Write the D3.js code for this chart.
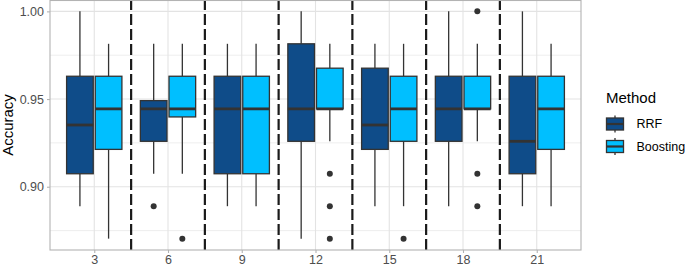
<!DOCTYPE html>
<html>
<head>
<meta charset="utf-8">
<script src="https://cdn.jsdelivr.net/npm/d3@7"></script>
<style>
  html, body { margin: 0; padding: 0; background: #fff; }
  svg { display: block; font-family: "Liberation Sans", Arial, sans-serif; }
</style>
</head>
<body>
<svg id="chart" width="685" height="267"></svg>
<script>
// ---- data (accuracy values) ----
const categories = ["3", "6", "9", "12", "15", "18", "21"];
const methods = ["RRF", "Boosting"];
const methodColors = ["#0F4C89", "#00BFFF"];
const yTicks = [0.90, 0.95, 1.00];

// per category: [whiskerLow, q1, median, q3, whiskerHigh]
const rrfStats = [
  [0.8889, 0.9074, 0.9352, 0.9630, 1.0000],
  [0.9074, 0.9259, 0.9444, 0.9491, 0.9815],
  [0.8889, 0.9074, 0.9444, 0.9630, 0.9815],
  [0.8704, 0.9259, 0.9444, 0.9815, 1.0000],
  [0.8889, 0.9213, 0.9352, 0.9676, 0.9815],
  [0.8889, 0.9259, 0.9444, 0.9630, 1.0000],
  [0.8889, 0.9074, 0.9259, 0.9630, 1.0000]
];
const boostingStats = [
  [0.8704, 0.9213, 0.9444, 0.9630, 0.9815],
  [0.9074, 0.9398, 0.9444, 0.9630, 0.9815],
  [0.8889, 0.9074, 0.9444, 0.9630, 0.9815],
  [0.9259, 0.9444, 0.9444, 0.9676, 0.9815],
  [0.8889, 0.9259, 0.9444, 0.9630, 0.9815],
  [0.9259, 0.9444, 0.9444, 0.9630, 0.9815],
  [0.8889, 0.9213, 0.9444, 0.9630, 0.9815]
];
const rrfOutliers = [[], [0.8889], [], [], [], [], []];
const boostingOutliers = [[], [0.8704], [], [0.9074, 0.8889, 0.8704], [0.8704], [1.0000, 0.9074, 0.8889], []];

// ---- layout ----
const svg = d3.select("#chart");
const panel = { left: 50, right: 581, top: 0, bottom: 250 };

const allVals = [...rrfStats.flat(), ...boostingStats.flat(), ...rrfOutliers.flat(), ...boostingOutliers.flat()];
const vmin = d3.min(allVals), vmax = d3.max(allVals);
const pad = (vmax - vmin) * 0.05;

const y = d3.scaleLinear().domain([vmin - pad, vmax + pad]).range([panel.bottom, panel.top]);
const x = d3.scalePoint().domain(categories).range([panel.left, panel.right]).padding(0.6);
const step = x.step();
const sub = d3.scaleBand().domain(methods).range([-step * 0.375, step * 0.375]).paddingInner(0.07);

const gridCol = "#e3e3e3";
// minor gridlines
const minorTicks = [0.875, 0.925, 0.975];
svg.append("g").selectAll("line").data(minorTicks).join("line")
  .attr("x1", panel.left).attr("x2", panel.right)
  .attr("y1", d => y(d)).attr("y2", d => y(d))
  .attr("stroke", gridCol).attr("stroke-width", 0.6);
// major gridlines
svg.append("g").selectAll("line").data(yTicks).join("line")
  .attr("x1", panel.left).attr("x2", panel.right)
  .attr("y1", d => y(d)).attr("y2", d => y(d))
  .attr("stroke", gridCol).attr("stroke-width", 1.1);
svg.append("g").selectAll("line").data(categories).join("line")
  .attr("x1", d => x(d)).attr("x2", d => x(d))
  .attr("y1", panel.top).attr("y2", panel.bottom)
  .attr("stroke", gridCol).attr("stroke-width", 1.1);

// dashed separators
const seps = categories.slice(1).map(c => x(c) - step / 2);
svg.append("g").selectAll("line").data(seps).join("line")
  .attr("x1", d => d).attr("x2", d => d)
  .attr("y1", panel.bottom).attr("y2", panel.top)
  .attr("stroke", "#1a1a1a").attr("stroke-width", 2.2)
  .attr("stroke-dasharray", "11,4");

// boxes
const outline = "#333333";
function drawBoxes(stats, outliers, mi) {
  const g = svg.append("g");
  stats.forEach((s, i) => {
    const cx = x(categories[i]) + sub(methods[mi]) + sub.bandwidth() / 2;
    const w = sub.bandwidth();
    const [lo, q1, med, q3, hi] = s;
    g.append("line").attr("x1", cx).attr("x2", cx).attr("y1", y(hi)).attr("y2", y(q3))
      .attr("stroke", outline).attr("stroke-width", 1.3);
    g.append("line").attr("x1", cx).attr("x2", cx).attr("y1", y(q1)).attr("y2", y(lo))
      .attr("stroke", outline).attr("stroke-width", 1.3);
    g.append("rect").attr("x", cx - w / 2).attr("width", w)
      .attr("y", y(q3)).attr("height", Math.max(0.01, y(q1) - y(q3)))
      .attr("fill", methodColors[mi]).attr("stroke", outline).attr("stroke-width", 1.3);
    g.append("line").attr("x1", cx - w / 2).attr("x2", cx + w / 2).attr("y1", y(med)).attr("y2", y(med))
      .attr("stroke", outline).attr("stroke-width", 2.8);
    outliers[i].forEach(v => {
      g.append("circle").attr("cx", cx).attr("cy", y(v)).attr("r", 3).attr("fill", outline);
    });
  });
}
drawBoxes(rrfStats, rrfOutliers, 0);
drawBoxes(boostingStats, boostingOutliers, 1);

// panel border
svg.append("rect").attr("x", panel.left).attr("y", panel.top + 0.5)
  .attr("width", panel.right - panel.left).attr("height", panel.bottom - panel.top - 0.5)
  .attr("fill", "none").attr("stroke", "#b3b3b3").attr("stroke-width", 1.1);

// axes
const xAxis = d3.axisBottom(x).tickSize(3).tickPadding(2.5);
const gx = svg.append("g").attr("transform", `translate(0,${panel.bottom})`).call(xAxis);
gx.select(".domain").remove();
gx.selectAll(".tick line").attr("stroke", "#b3b3b3").attr("stroke-width", 1.1);
gx.selectAll("text").attr("fill", "#4d4d4d").attr("font-size", 12.5).attr("font-family", "Liberation Sans, Arial, sans-serif");

const yAxis = d3.axisLeft(y).tickValues(yTicks).tickFormat(d3.format(".2f")).tickSize(3).tickPadding(3);
const gy = svg.append("g").attr("transform", `translate(${panel.left},0)`).call(yAxis);
gy.select(".domain").remove();
gy.selectAll(".tick line").attr("stroke", "#b3b3b3").attr("stroke-width", 1.1);
gy.selectAll("text").attr("fill", "#4d4d4d").attr("font-size", 12.5).attr("font-family", "Liberation Sans, Arial, sans-serif");

svg.append("text").attr("transform", `translate(12.5,${(panel.top + panel.bottom) / 2}) rotate(-90)`)
  .attr("text-anchor", "middle").attr("font-size", 15).attr("fill", "#000").text("Accuracy");

// legend
const lg = svg.append("g").attr("transform", "translate(606,0)");
lg.append("text").attr("x", 0).attr("y", 103.3).attr("font-size", 15).attr("fill", "#000").text("Method");
methods.forEach((m, i) => {
  const cy = 124 + i * 22.5;
  const kx = 9;
  lg.append("line").attr("x1", kx).attr("x2", kx).attr("y1", cy - 8.5).attr("y2", cy + 8.5)
    .attr("stroke", outline).attr("stroke-width", 1.3);
  lg.append("rect").attr("x", 0.5).attr("y", cy - 6).attr("width", 17).attr("height", 12)
    .attr("fill", methodColors[i]).attr("stroke", outline).attr("stroke-width", 1.3);
  lg.append("line").attr("x1", 0.5).attr("x2", 17.5).attr("y1", cy).attr("y2", cy)
    .attr("stroke", outline).attr("stroke-width", 2.2);
  lg.append("text").attr("x", 30.5).attr("y", cy + 4.3).attr("font-size", 12.5).attr("fill", "#000").text(m);
});
</script>
</body>
</html>
